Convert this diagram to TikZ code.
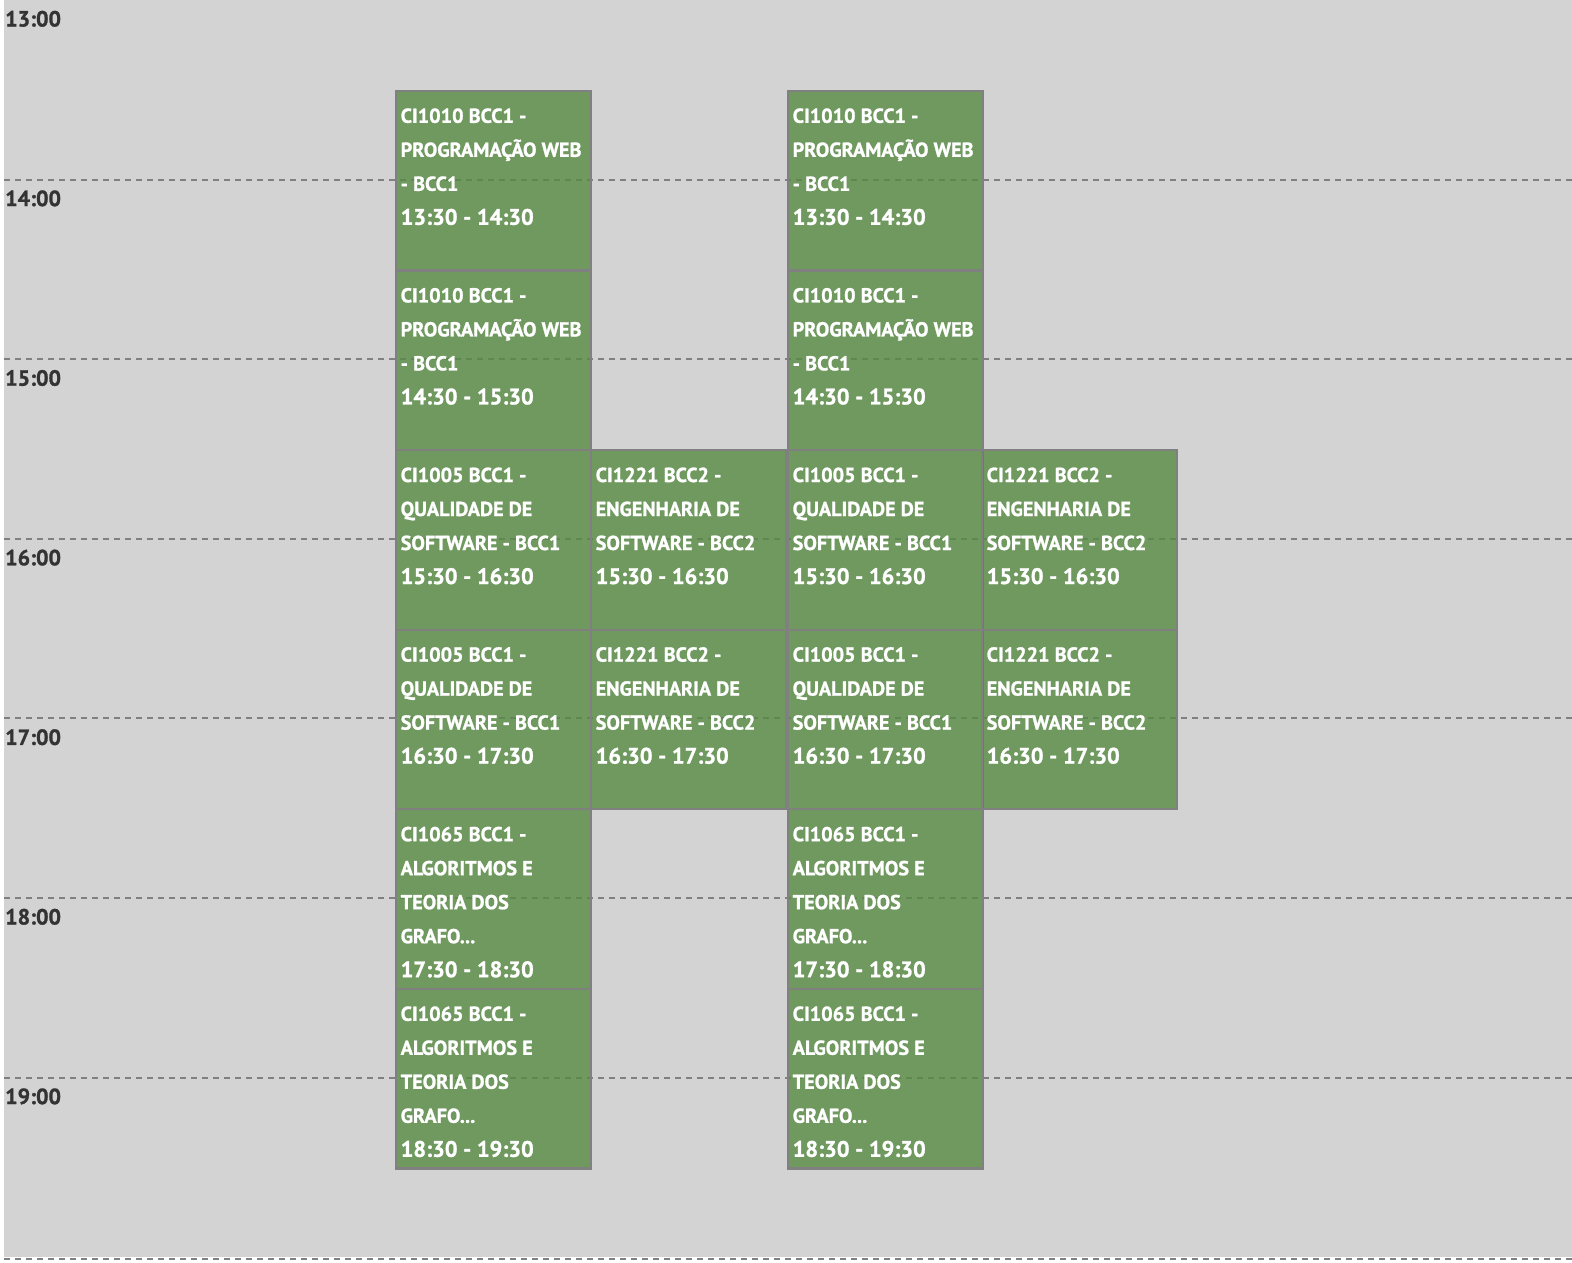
\documentclass[tikz,border=0pt]{standalone}
\usepackage{fontspec}
\setmainfont{PT Sans}[BoldFeatures={FakeBold=1.2}]
\definecolor{fundo}{RGB}{211,211,211}
\definecolor{verde}{RGB}{86,139,67}
\definecolor{borda}{RGB}{128,128,128}
\definecolor{hora}{RGB}{51,51,51}
\newcommand{\tres}{...}
\tikzset{
  aula/.style={rectangle, draw=borda, line width=2.2pt, fill=verde, fill opacity=0.8,
    minimum width=195pt, minimum height=179.6pt, inner sep=0pt, outer sep=0pt, anchor=north west},
  titulo/.style={text=white, font=\bfseries\fontsize{20.2}{34}\selectfont, anchor=base west, inner sep=0pt},
  horario/.style={text=white, font=\bfseries\fontsize{22.4}{26}\selectfont, anchor=base west, inner sep=0pt},
  rotulo/.style={text=hora, font=\bfseries\fontsize{22}{24}\selectfont, anchor=base west, inner sep=0pt},
  grade/.style={borda, line width=2pt, dash pattern=on 6pt off 5pt}
}
% name, x, start (hours after 13:00), lines, title, time
\newcommand{\aula}[6]{%
  \node[aula] (#1) at (#2, {#3*179.6+1}) {};
  \foreach \linha [count=\i] in {#5}
    \node[titulo] (#1-\i) at (#2+4.5, {#3*179.6+33+34*(\i-1)}) {\linha};
  \node[horario] (#1-t) at (#2+4.5, {#3*179.6+33+34*#4}) {#6};
}
\begin{document}
\begin{tikzpicture}[x=1pt, y=-1pt]
  \useasboundingbox (0,0) rectangle (1572,1262);
  \fill[fundo] (4,0) rectangle (1572,1257);
  % grid
  \foreach \h in {1,...,6}
    \coordinate (g\h) at (4, {\h*179.6});
  \coordinate (g7) at (4,1258.5);
  \foreach \h in {1,...,7}
    \draw[grade] (g\h) -- ++(1568,0);
  % hour labels
  \foreach \h [evaluate=\h as \hh using int(13+\h)] in {0,...,6}
    \node[rotulo] (h\hh) at (5, {\h*179.6+26.5}) {\hh:00};
  % classes
  \foreach \c/\n in {396/a,788/b} {
    \aula{pw1\n}{\c}{0.5}{3}{CI1010 BCC1 -,PROGRAMAÇÃO WEB,- BCC1}{13:30 - 14:30}
    \aula{pw2\n}{\c}{1.5}{3}{CI1010 BCC1 -,PROGRAMAÇÃO WEB,- BCC1}{14:30 - 15:30}
    \aula{qs1\n}{\c}{2.5}{3}{CI1005 BCC1 -,QUALIDADE DE,SOFTWARE - BCC1}{15:30 - 16:30}
    \aula{qs2\n}{\c}{3.5}{3}{CI1005 BCC1 -,QUALIDADE DE,SOFTWARE - BCC1}{16:30 - 17:30}
    \aula{ag1\n}{\c}{4.5}{4}{CI1065 BCC1 -,ALGORITMOS E,TEORIA DOS,GRAFO\tres}{17:30 - 18:30}
    \aula{ag2\n}{\c}{5.5}{4}{CI1065 BCC1 -,ALGORITMOS E,TEORIA DOS,GRAFO\tres}{18:30 - 19:30}
  }
  \foreach \c/\n in {591/a,982/b} {
    \aula{es1\n}{\c}{2.5}{3}{CI1221 BCC2 -,ENGENHARIA DE,SOFTWARE - BCC2}{15:30 - 16:30}
    \aula{es2\n}{\c}{3.5}{3}{CI1221 BCC2 -,ENGENHARIA DE,SOFTWARE - BCC2}{16:30 - 17:30}
  }
\end{tikzpicture}
\end{document}
